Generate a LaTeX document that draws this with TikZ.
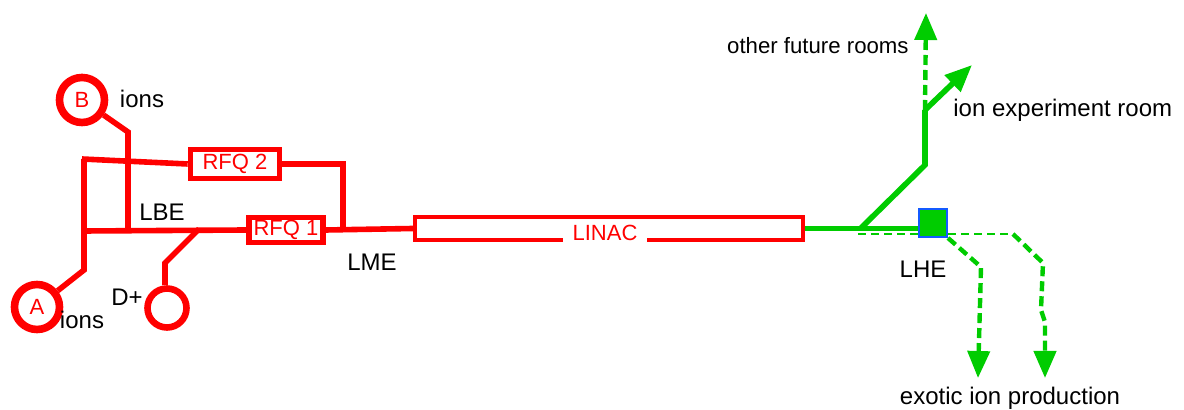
\documentclass[tikz,border=0pt]{standalone}
\usepackage{fontspec}
\setmainfont{Liberation Sans}
\usetikzlibrary{arrows.meta}
\definecolor{lred}{RGB}{255,0,0}
\definecolor{lgreen}{RGB}{0,204,0}
\definecolor{lblue}{RGB}{20,90,255}
\begin{document}
\begin{tikzpicture}[x=0.5pt,y=-0.5pt,
  redline/.style={draw=lred,line width=2.8pt},
  src/.style={circle,draw=lred,line width=3.8pt,minimum size=22.5pt,inner sep=0pt,text=lred,font=\fontsize{11}{13}\selectfont},
  box/.style={draw=lred,line width=2.8pt,fill=white,text=lred,inner sep=0pt,font=\fontsize{11}{13}\selectfont},
  lbl/.style={font=\fontsize{12}{14}\selectfont,inner sep=0pt},
  gline/.style={draw=lgreen,line width=2.8pt},
  gthin/.style={draw=lgreen,line width=1pt,dash pattern=on 4pt off 2.5pt},
  gthick/.style={draw=lgreen,line width=2.2pt,dash pattern=on 5pt off 2.5pt},
  arr/.style={-{Triangle[length=13.5pt,width=11pt]}}
]
\useasboundingbox (0,0) rectangle (1184,410);

% sources
\node[src] (B) at (82,100) {B};
\node[src] (A) at (37,307) {A};
\node[src,minimum size=19.5pt,line width=3.3pt] (D) at (167,308) {};

% boxes
\node[box,minimum width=44.5pt,minimum height=14.5pt] (rfq2) at (235,164) {RFQ 2};
\node[box,minimum width=37pt,minimum height=12.5pt] (rfq1) at (286,230) {RFQ 1};
\node[box,line width=2.2pt,minimum width=194pt,minimum height=11.5pt] (linac) at (609,228.5) {};
\node[fill=white,text=lred,inner xsep=5pt,inner ysep=1pt,font=\fontsize{11}{13}\selectfont] (linaclbl) at ([xshift=-2pt,yshift=4.5pt]linac.south) {LINAC};

% coordinates
\coordinate (bB1) at (128,132);
\coordinate (bB2) at (128,231);
\coordinate (tl) at (82,159);
\coordinate (vl) at (84,159);
\coordinate (ml) at (84,231);
\coordinate (bl) at (84,270);
\coordinate (r2a) at (343,164);
\coordinate (r2b) at (343,231);
\coordinate (dj) at (199,229);
\coordinate (dk) at (165,263);

% red beam lines
\draw[redline] (B) -- (bB1) -- (bB2);
\draw[redline] (tl) -- (rfq2.west);
\draw[redline] (vl) -- (bl) -- (A);
\draw[redline] (ml) -- (rfq1.west);
\draw[redline] (rfq2.east) -- (r2a) -- (r2b);
\draw[redline] (dj) -- (dk) -- (dk |- D.north);
\draw[redline] (rfq1.east) -- (linac.west);

% LHE
\node[draw=lblue,fill=lgreen,line width=1pt,minimum size=14pt,inner sep=0pt] (lhe) at (933,223) {};

% green
\coordinate (g1) at (860,229);
\coordinate (g2) at (925,165);
\coordinate (g3) at (925,110);
\coordinate (g4) at (972,65);
\coordinate (g5) at (926,13);
\coordinate (t1) at (858,234);
\coordinate (t2) at (1013,234);
\coordinate (t3) at (1043,263);
\coordinate (t4) at (1041,310);
\coordinate (t5) at (1045,322);
\coordinate (t6) at (1045,378);
\coordinate (e1) at (981,267);
\coordinate (e2) at (978,378);

\draw[gline] (linac.east) -- (linac.east -| lhe.west);
\draw[gline] (g1) -- (g2) -- (g3);
\draw[gline,arr] (g3) -- (g4);
\draw[gthick,arr] (g3) -- (g5);
\draw[gthin] (t1) -- (t1 -| lhe.west);
\draw[gthin] (t1 -| lhe.east) -- (t2);
\draw[gthick,arr] (t2) -- (t3) -- (t4) -- (t5) -- (t6);
\draw[gthick,arr] (lhe.south east) -- (e1) -- (e2);

% labels
\node[lbl] (ionsB) at (142,99) {ions};
\node[lbl] (ionsA) at (82,320) {ions};
\node[lbl] (dplus) at (127,297) {D+};
\node[lbl] (lbe) at (162,212) {LBE};
\node[lbl] (lme) at (372,262) {LME};
\node[lbl] (lhel) at (923,269) {LHE};
\node[lbl,anchor=east,font=\fontsize{11.1}{13}\selectfont] (ofr) at (909,46) {other future rooms};
\node[lbl,anchor=west] (ier) at (953,110) {ion experiment room};
\node[lbl] (eip) at (1010,398) {exotic ion production};
\end{tikzpicture}
\end{document}
